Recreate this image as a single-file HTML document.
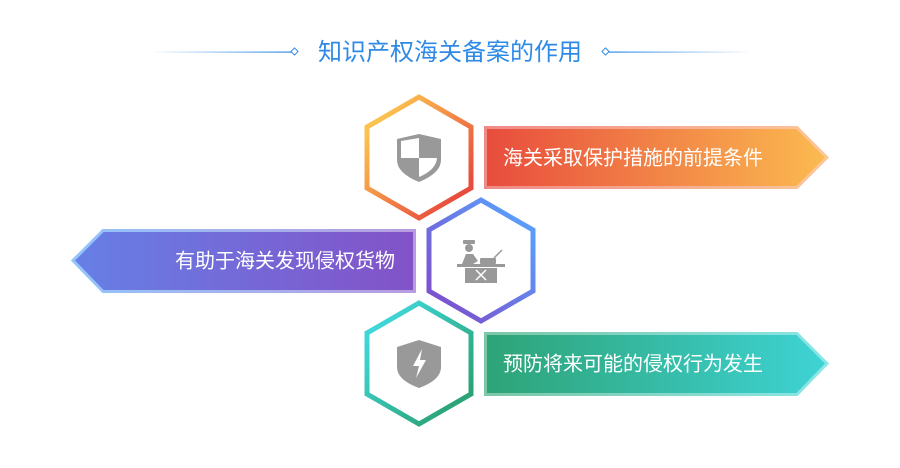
<!DOCTYPE html>
<html><head><meta charset="utf-8"><style>
html,body{margin:0;padding:0;background:#fff;}
body{width:900px;height:468px;overflow:hidden;position:relative;font-family:"Liberation Sans","Noto Sans CJK SC",sans-serif;}
</style></head><body>
<svg width="900" height="468" viewBox="0 0 900 468" xmlns="http://www.w3.org/2000/svg" style="position:absolute;left:0;top:0">
<defs>
<linearGradient id="lineL" gradientUnits="userSpaceOnUse" x1="150" y1="0" x2="292" y2="0"><stop offset="0" stop-color="#2e8ae6" stop-opacity="0"/><stop offset="1" stop-color="#2e8ae6"/></linearGradient>
<linearGradient id="lineR" gradientUnits="userSpaceOnUse" x1="609" y1="0" x2="752" y2="0"><stop offset="0" stop-color="#2e8ae6"/><stop offset="1" stop-color="#2e8ae6" stop-opacity="0"/></linearGradient>
<linearGradient id="h1" x1="0" y1="0" x2="1" y2="1"><stop offset="0.15" stop-color="#fcc24f"/><stop offset="0.85" stop-color="#e84c3d"/></linearGradient>
<linearGradient id="b1" x1="0" x2="1"><stop offset="0" stop-color="#e84c3d"/><stop offset="1" stop-color="#fbbb50"/></linearGradient>
<linearGradient id="b1s" x1="0" x2="1"><stop offset="0" stop-color="#f08a88"/><stop offset="1" stop-color="#fcc89a"/></linearGradient>
<linearGradient id="h2" x1="1" y1="0" x2="0" y2="1"><stop offset="0.15" stop-color="#5b9cf8"/><stop offset="0.85" stop-color="#7b55d0"/></linearGradient>
<linearGradient id="b2" x1="0" x2="1"><stop offset="0" stop-color="#6680e6"/><stop offset="1" stop-color="#8352c8"/></linearGradient>
<linearGradient id="b2s" x1="0" x2="1"><stop offset="0" stop-color="#93c5fb"/><stop offset="1" stop-color="#b79de0"/></linearGradient>
<linearGradient id="h3" x1="0" y1="0" x2="1" y2="1"><stop offset="0.15" stop-color="#3fd6d8"/><stop offset="0.85" stop-color="#2ca376"/></linearGradient>
<linearGradient id="b3" x1="0" x2="1"><stop offset="0" stop-color="#2ea377"/><stop offset="1" stop-color="#3ed3d4"/></linearGradient>
<linearGradient id="b3s" x1="0" x2="1"><stop offset="0" stop-color="#7cc7a6"/><stop offset="1" stop-color="#8ae6e8"/></linearGradient>
</defs>
<rect x="150" y="51.5" width="142" height="1.2" fill="url(#lineL)"/>
<rect x="292" y="49" width="5" height="5" transform="rotate(45 294.5 51.5)" fill="#fff" stroke="#2e8ae6" stroke-width="1"/>
<rect x="609" y="51.5" width="143" height="1.2" fill="url(#lineR)"/>
<rect x="603" y="49" width="5" height="5" transform="rotate(45 605.5 51.5)" fill="#fff" stroke="#2e8ae6" stroke-width="1"/>
<text x="450" y="60" text-anchor="middle" font-size="24" fill="#2e8ae6" font-family="Liberation Sans, Noto Sans CJK SC, sans-serif">知识产权海关备案的作用</text>

<polygon points="485.5,127.5 797,127.5 827,157.5 797,187.5 485.5,187.5" fill="url(#b1)" stroke="url(#b1s)" stroke-width="3"/>
<text x="503" y="164.5" font-size="20" fill="#fff" font-family="Liberation Sans, Noto Sans CJK SC, sans-serif">海关采取保护措施的前提条件</text>

<polygon points="414.5,230.5 103,230.5 73,260.5 103,291.5 414.5,291.5" fill="url(#b2)" stroke="url(#b2s)" stroke-width="3"/>
<text x="395" y="267.5" text-anchor="end" font-size="20" fill="#fff" font-family="Liberation Sans, Noto Sans CJK SC, sans-serif">有助于海关发现侵权货物</text>

<polygon points="485.5,333.5 797,333.5 827,363.5 797,394.5 485.5,394.5" fill="url(#b3)" stroke="url(#b3s)" stroke-width="3"/>
<text x="503" y="370.5" font-size="20" fill="#fff" font-family="Liberation Sans, Noto Sans CJK SC, sans-serif">预防将来可能的侵权行为发生</text>

<polygon points="419,97 471,127 471,188 419,218 367,188 367,127" fill="#fff" stroke="url(#h1)" stroke-width="5"/>
<polygon points="481,200 533,230 533,291 481,321 429,291 429,230" fill="#fff" stroke="url(#h2)" stroke-width="5"/>
<polygon points="419,303 471,333 471,394 419,424 367,394 367,333" fill="#fff" stroke="url(#h3)" stroke-width="5"/>

<path d="M419,134 L441,139 L441,160 Q441,173 419,182 Q397,173 397,160 L397,139 Z" fill="#999"/>
<path d="M419,138 L419,158 L401,158 L401,141 Z" fill="#fff"/>
<path d="M419,158 L437,158 Q436,170 419,177 Z" fill="#fff"/>
<rect x="463" y="240" width="12" height="4" rx="1" fill="#999"/>
<circle cx="469" cy="248" r="4" fill="#999"/>
<path d="M462,264 L466,254 L473,254 L478,261 L473,264 Z" fill="#999"/>
<rect x="480" y="258" width="16" height="6" rx="1" fill="#999"/>
<line x1="494" y1="258" x2="502" y2="250" stroke="#999" stroke-width="1.5"/>
<rect x="457" y="264" width="48" height="3" fill="#999"/>
<rect x="465" y="268" width="32" height="15" fill="#999"/>
<path d="M476,280 L486,270 M476,270 L486,280" stroke="#fff" stroke-width="1.5"/>
<path d="M419,340 L441,347 L441,367 Q441,380 419,388 Q397,380 397,367 L397,347 Z" fill="#999"/>
<path d="M422,349 L413,366 L419,366 L416,378 L426,360 L420,360 Z" fill="#fff"/>
</svg>
</body></html>
